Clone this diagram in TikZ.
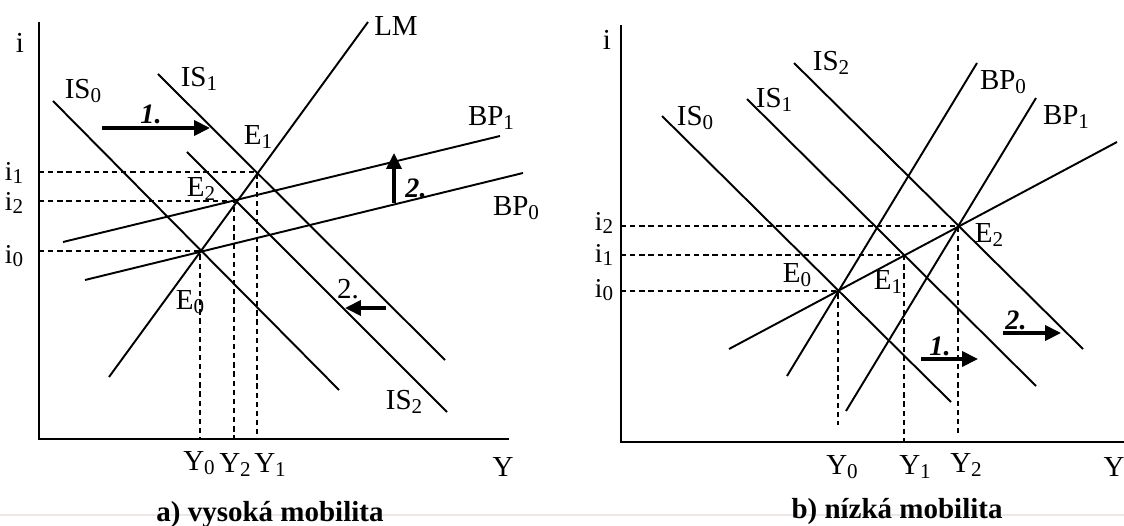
\documentclass[tikz,border=0pt]{standalone}
\usepackage{fontspec}
\setmainfont{Liberation Serif}
\usetikzlibrary{arrows.meta,positioning}
\newcommand{\sbs}[1]{\raisebox{-0.3ex}{\fontsize{12}{12}\selectfont#1}}
\definecolor{faint}{HTML}{EDE6E2}
\tikzset{
  curve/.style={line width=1.1pt},
  axis/.style={line width=1.6pt},
  guide/.style={line width=1.1pt,dash pattern=on 3pt off 2.2pt},
  shiftarrow/.style={line width=2pt,-{Triangle[length=9pt,width=8.5pt]}},
  lbl/.style={font=\fontsize{16.5}{19}\selectfont,inner sep=0pt},
  ticklbl/.style={font=\fontsize{15.5}{18}\selectfont,inner sep=0pt},
  steplbl/.style={font=\fontsize{16}{19}\selectfont\bfseries\itshape,inner sep=0pt},
  caption/.style={font=\fontsize{16.5}{20}\selectfont\bfseries,inner sep=0pt,anchor=base},
}
\begin{document}
\begin{tikzpicture}[x=0.02cm,y=-0.02cm]
  \useasboundingbox (0,0) rectangle (1124,526);
  \draw[faint,line width=0.6pt] (0,515) -- (1124,515);
  % a) high mobility
  \coordinate (Oa) at (39,439);
  \draw[axis] (39,22) -- (Oa) -- (509,439);
  \node[lbl] (ia) at (20,43) {i};
  \node[lbl] (Ya) at (503,467) {Y};
  \coordinate (E0a) at (200,251);
  \coordinate (E1a) at (257,172);
  \coordinate (E2a) at (234,201);
  \foreach \p in {E0a,E1a,E2a}{\draw[guide] (\p -| Oa) -- (\p) -- (\p |- Oa);}
  \draw[curve] (368,22) -- (109,377);
  \draw[curve] (53,101) -- (339,390);
  \draw[curve] (158,74) -- (445,360);
  \draw[curve] (187,152) -- (447,412);
  \draw[curve] (63,242) -- (500,136);
  \draw[curve] (85,280) -- (523,173);
  \node[lbl] (LMa) at (396,26) {LM};
  \node[lbl] (IS0a) at (83,91) {IS\sbs{0}};
  \node[lbl] (IS1a) at (199,79) {IS\sbs{1}};
  \node[lbl] (IS2a) at (404,402) {IS\sbs{2}};
  \node[lbl] (BP1a) at (491,118) {BP\sbs{1}};
  \node[lbl] (BP0a) at (516,208) {BP\sbs{0}};
  \node[lbl] (E0la) at (190,302) {E\sbs{0}};
  \node[lbl] (E1la) at (258,137) {E\sbs{1}};
  \node[lbl] (E2la) at (201,189) {E\sbs{2}};
  \foreach \y/\t in {256/0,173/1,203/2}{\node[ticklbl] at (14,\y) {i\sbs{\t}};}
  \node[lbl] (Y0a) at (199,463) {Y\sbs{0}};
  \node[lbl] (Y2a) at (235,465) {Y\sbs{2}};
  \node[lbl] (Y1a) at (270,465) {Y\sbs{1}};
  \coordinate (s1a) at (102,128); \coordinate (t1a) at (210,128);
  \draw[shiftarrow] (s1a) -- (t1a);
  \node[steplbl] (n1a) at (151,114) {1.};
  \coordinate (s2a) at (394,203); \coordinate (t2a) at (394,153);
  \draw[shiftarrow] (s2a) -- (t2a);
  \node[steplbl] (n2a) at (416,188) {2.};
  \coordinate (s3a) at (386,308); \coordinate (t3a) at (345,308);
  \draw[shiftarrow] (s3a) -- (t3a);
  \node[lbl] (n3a) at (348,289) {2.};
  \node[caption] (capa) at (270,521) {a) vysoká mobilita};
  % b) low mobility
  \coordinate (Ob) at (621,442);
  \draw[axis] (621,25) -- (Ob) -- (1124,442);
  \node[lbl] (ib) at (607,40) {i};
  \node[lbl] (Yb) at (1114,467) {Y};
  \coordinate (E0b) at (838,291);
  \coordinate (E1b) at (904,255);
  \coordinate (E2b) at (958,226);
  \foreach \p/\e in {E0b/425,E1b/442,E2b/433}{\draw[guide] (\p -| Ob) -- (\p) -- (\p |- 0,\e);}
  \draw[curve] (662,116) -- (951,402);
  \draw[curve] (747,99) -- (1036,386);
  \draw[curve] (794,63) -- (1083,349);
  \draw[curve] (977,63) -- (787,376);
  \draw[curve] (1036,98) -- (846,411);
  \draw[curve] (729,349) -- (1117,142);
  \node[lbl] (IS0b) at (695,118) {IS\sbs{0}};
  \node[lbl] (IS1b) at (774,100) {IS\sbs{1}};
  \node[lbl] (IS2b) at (831,63) {IS\sbs{2}};
  \node[lbl] (BP0b) at (1003,82) {BP\sbs{0}};
  \node[lbl] (BP1b) at (1066,117) {BP\sbs{1}};
  \node[lbl] (E0lb) at (797,275) {E\sbs{0}};
  \node[lbl] (E1lb) at (888,282) {E\sbs{1}};
  \node[lbl] (E2lb) at (989,235) {E\sbs{2}};
  \foreach \y/\t in {290/0,255/1,223/2}{\node[ticklbl] at (604,\y) {i\sbs{\t}};}
  \node[lbl] (Y0b) at (842,467) {Y\sbs{0}};
  \node[lbl] (Y1b) at (915,467) {Y\sbs{1}};
  \node[lbl] (Y2b) at (966,465) {Y\sbs{2}};
  \coordinate (s1b) at (921,359); \coordinate (t1b) at (978,359);
  \draw[shiftarrow] (s1b) -- (t1b);
  \node[steplbl] (n1b) at (940,346) {1.};
  \coordinate (s2b) at (1003,333); \coordinate (t2b) at (1061,333);
  \draw[shiftarrow] (s2b) -- (t2b);
  \node[steplbl] (n2b) at (1016,320) {2.};
  \node[caption] (capb) at (897,518) {b) nízká mobilita};
\end{tikzpicture}
\end{document}
